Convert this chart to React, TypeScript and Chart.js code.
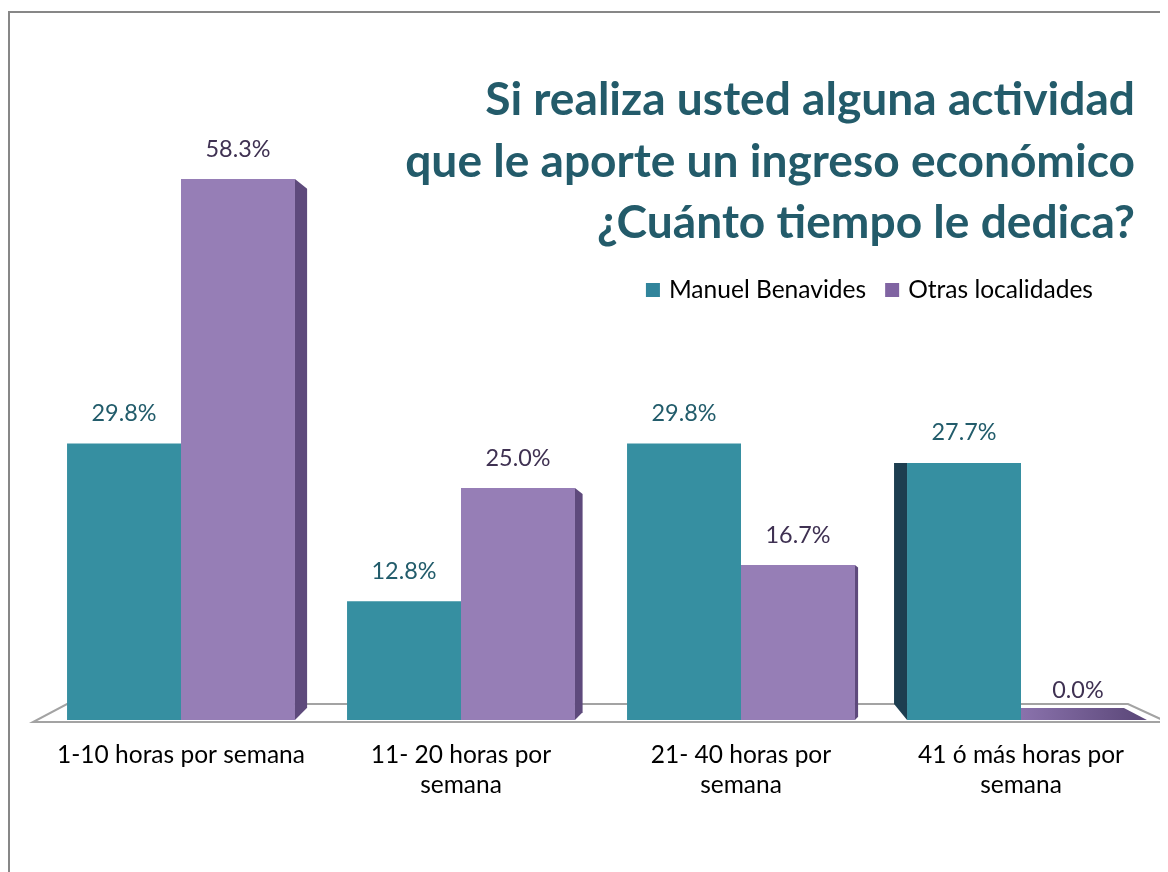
import React, { useEffect, useRef } from "react";
import { Chart, registerables } from "chart.js";

Chart.register(...registerables);

const categories: (string | string[])[] = [
  "1-10 horas por semana",
  ["11- 20 horas por", "semana"],
  ["21- 40 horas por", "semana"],
  ["41 ó más horas por", "semana"],
];
const seriesNames = ["Manuel Benavides", "Otras localidades"];
const manuelBenavides = [29.8, 12.8, 29.8, 27.7];
const otrasLocalidades = [58.3, 25.0, 16.7, 0.0];
const titleLines = [
  "Si realiza usted alguna actividad",
  "que le aporte un ingreso económico",
  "¿Cuánto tiempo le dedica?",
];

const FAMILY = "Lato, 'Open Sans', sans-serif";
const TEAL = "#368fa1";
const PURPLE = "#967eb6";
const TEAL_SIDE = "#1d3e50";
const PURPLE_SIDE = "#5e4a7c";
const TEAL_LABEL = "#225c6b";
const PURPLE_LABEL = "#3f3152";
const TITLE_COLOR = "#235b6a";
const LEGEND_SQ = ["#31849b", "#8064a2"];

function fitSize(text: string, target: number, weight: string) {
  const c = document.createElement("canvas").getContext("2d")!;
  c.font = `${weight} 100px ${FAMILY}`;
  return (100 * target) / c.measureText(text).width;
}

export default function App() {
  const ref = useRef<HTMLCanvasElement>(null);

  useEffect(() => {
    const canvas = ref.current!;
    const tickSize = fitSize("1-10 horas por semana", 248, "normal");
    const labelSize = fitSize("58.3%", 65, "normal");
    const titleSize = fitSize(titleLines[1], 730, "bold");
    const legendSize = fitSize(seriesNames[1], 185, "normal");

    const decor = {
      id: "decor",
      beforeDatasetsDraw(chart: any) {
        const { ctx, chartArea } = chart;
        const { left, right, bottom } = chartArea;
        ctx.save();
        ctx.beginPath();
        ctx.moveTo(left - 8, bottom + 2);
        ctx.lineTo(right + 6, bottom + 2);
        ctx.lineTo(right - 33, bottom - 16);
        ctx.lineTo(left + 26, bottom - 16);
        ctx.closePath();
        ctx.fillStyle = "#ffffff";
        ctx.fill();
        ctx.strokeStyle = "#a3a3a3";
        ctx.lineWidth = 2;
        ctx.stroke();
        ctx.restore();
      },
      afterDatasetsDraw(chart: any) {
        const ctx = chart.ctx;
        ctx.save();
        chart.data.datasets.forEach((ds: any, di: number) => {
          const meta = chart.getDatasetMeta(di);
          meta.data.forEach((bar: any, i: number) => {
            const { x, y, base, width } = bar.getProps(["x", "y", "base", "width"], true);
            const l = x - width / 2;
            const r = x + width / 2;
            const v = ds.data[i];
            if (v === 0) {
              ctx.beginPath();
              ctx.moveTo(l, base);
              ctx.lineTo(r + 12, base);
              ctx.lineTo(r - 11, base - 12);
              ctx.lineTo(l, base - 12);
              ctx.closePath();
              const g = ctx.createLinearGradient(l, 0, r, 0);
              g.addColorStop(0, "#8a72ac");
              g.addColorStop(1, "#5e4a7c");
              ctx.fillStyle = g;
              ctx.fill();
            } else if (di === 1 && r < 870) {
              const d = 3 + (855 - r) * 0.0161;
              ctx.beginPath();
              ctx.moveTo(r, y);
              ctx.lineTo(r + d, y + d * 0.8);
              ctx.lineTo(r + d, base - d);
              ctx.lineTo(r, base);
              ctx.closePath();
              ctx.fillStyle = PURPLE_SIDE;
              ctx.fill();
            } else if (di === 0 && l > 870) {
              const d = 13;
              ctx.beginPath();
              ctx.moveTo(l - d, y);
              ctx.lineTo(l, y);
              ctx.lineTo(l, base);
              ctx.lineTo(l - d, base - 16);
              ctx.closePath();
              ctx.fillStyle = TEAL_SIDE;
              ctx.fill();
            }
          });
        });
        ctx.restore();
      },
      afterDraw(chart: any) {
        const ctx = chart.ctx;
        ctx.save();
        // data labels
        ctx.font = `normal ${labelSize}px ${FAMILY}`;
        ctx.textAlign = "center";
        ctx.textBaseline = "middle";
        chart.data.datasets.forEach((ds: any, di: number) => {
          const meta = chart.getDatasetMeta(di);
          meta.data.forEach((bar: any, i: number) => {
            const { x, y } = bar.getProps(["x", "y"], true);
            ctx.fillStyle = di === 0 ? TEAL_LABEL : PURPLE_LABEL;
            ctx.fillText(`${Number(ds.data[i]).toFixed(1)}%`, x, y - 30);
          });
        });
        // title
        ctx.font = `bold ${titleSize}px ${FAMILY}`;
        ctx.textAlign = "right";
        ctx.fillStyle = TITLE_COLOR;
        const ty = [92, 154, 215];
        titleLines.forEach((t, k) => ctx.fillText(t, 1127, ty[k]));
        // legend
        ctx.font = `normal ${legendSize}px ${FAMILY}`;
        ctx.textAlign = "left";
        const w0 = ctx.measureText(seriesNames[0]).width;
        const w1 = ctx.measureText(seriesNames[1]).width;
        const sq = 14;
        const gap = 9;
        const itemGap = 19;
        const rightEnd = 1085;
        const x1 = rightEnd - w1;
        const s1 = x1 - gap - sq;
        const x0 = s1 - itemGap - w0;
        const s0 = x0 - gap - sq;
        const ly = 282;
        ctx.fillStyle = LEGEND_SQ[0];
        ctx.fillRect(s0, ly - sq / 2, sq, sq);
        ctx.fillStyle = LEGEND_SQ[1];
        ctx.fillRect(s1, ly - sq / 2, sq, sq);
        ctx.fillStyle = "#000000";
        ctx.fillText(seriesNames[0], x0, ly);
        ctx.fillText(seriesNames[1], x1, ly);
        ctx.restore();
      },
    };

    const chart = new Chart(canvas, {
      type: "bar",
      data: {
        labels: categories,
        datasets: [
          { label: seriesNames[0], data: manuelBenavides, backgroundColor: TEAL, borderWidth: 0 },
          { label: seriesNames[1], data: otrasLocalidades, backgroundColor: PURPLE, borderWidth: 0 },
        ],
      },
      options: {
        animation: false,
        responsive: false,
        layout: { padding: { left: 33, right: 7, top: 16, bottom: 0 } },
        datasets: { bar: { categoryPercentage: 0.814, barPercentage: 1 } },
        plugins: {
          legend: { display: false },
          title: { display: false },
          tooltip: { enabled: false },
        },
        scales: {
          x: {
            grid: { display: false, drawTicks: false },
            border: { display: false },
            ticks: {
              color: "#000000",
              font: { family: FAMILY, size: tickSize, lineHeight: 30 / tickSize },
              padding: 20,
              maxRotation: 0,
              autoSkip: false,
            },
            afterFit: (s: any) => {
              s.height = 152;
            },
          },
          y: { display: false, min: 0, max: 75 },
        },
      },
      plugins: [decor],
    } as any);
    return () => chart.destroy();
  }, []);

  return (
    <div style={{ position: "relative", width: 1160, height: 864, overflow: "hidden" }}>
      <div
        style={{
          position: "absolute",
          left: 0,
          top: 3,
          width: 1400,
          height: 1200,
          borderLeft: "2px solid #878787",
          borderTop: "2px solid #878787",
        }}
      />
      <canvas ref={ref} width={1160} height={864} style={{ position: "absolute", left: 0, top: 0 }} />
    </div>
  );
}
